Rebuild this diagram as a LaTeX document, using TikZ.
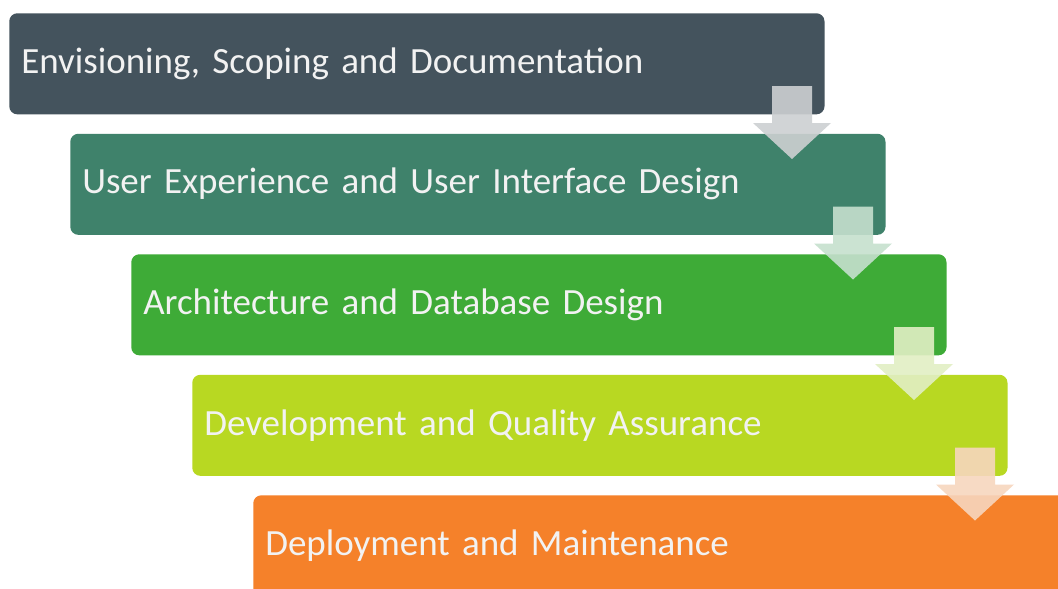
\documentclass[tikz,border=0pt]{standalone}
\usepackage{fontspec}
\setmainfont{Carlito}
\definecolor{slate}{HTML}{44535D}
\definecolor{teal}{HTML}{3F826B}
\definecolor{leaf}{HTML}{3EAB37}
\definecolor{lime}{HTML}{B8D822}
\definecolor{tangerine}{HTML}{F5812A}
\definecolor{arrowA}{HTML}{CDD0D2}
\definecolor{arrowB}{HTML}{C6E0CE}
\definecolor{arrowC}{HTML}{E2EFC4}
\definecolor{arrowD}{HTML}{F7D6BE}
\tikzset{
  stepbox/.style={anchor=north west, rounded corners=8*0.025cm,
    minimum width=20.375cm, minimum height=2.525cm, text width=19.775cm,
    inner xsep=0.3cm, align=left, text=white!95!black,
    font=\fontsize{26.3}{30}\selectfont},
  steparrow/.style={opacity=0.9}
}
\begin{document}
\begin{tikzpicture}[x=0.025cm,y=-0.025cm]
\clip (0,0) rectangle (1058,588);
\fill[white] (0,0) rectangle (1058,588);
% boxes
\node[stepbox,fill=slate]     (envision) at (9,13)    {Envisioning, Scoping and Documentation};
\node[stepbox,fill=teal]      (uxui)     at (70,133.5)  {User Experience and User Interface Design};
\node[stepbox,fill=leaf]      (arch)     at (131,254) {Architecture and Database Design};
\node[stepbox,fill=lime]      (devqa)    at (192,374.5) {Development and Quality Assurance};
\node[stepbox,fill=tangerine] (deploy)   at (253,495) {Deployment and Maintenance};
% arrows
\fill[steparrow,arrowA] (772,86)--(812,86)--(812,123)--(831,123)--(792,159)--(753,123)--(772,123)--cycle;
\fill[steparrow,arrowB] (833,206.5)--(873,206.5)--(873,243.5)--(892,243.5)--(853,279.5)--(814,243.5)--(833,243.5)--cycle;
\fill[steparrow,arrowC] (894,327)--(934,327)--(934,364)--(953,364)--(914,400)--(875,364)--(894,364)--cycle;
\fill[steparrow,arrowD] (955,447.5)--(995,447.5)--(995,484.5)--(1014,484.5)--(975,520.5)--(936,484.5)--(955,484.5)--cycle;
\end{tikzpicture}
\end{document}
